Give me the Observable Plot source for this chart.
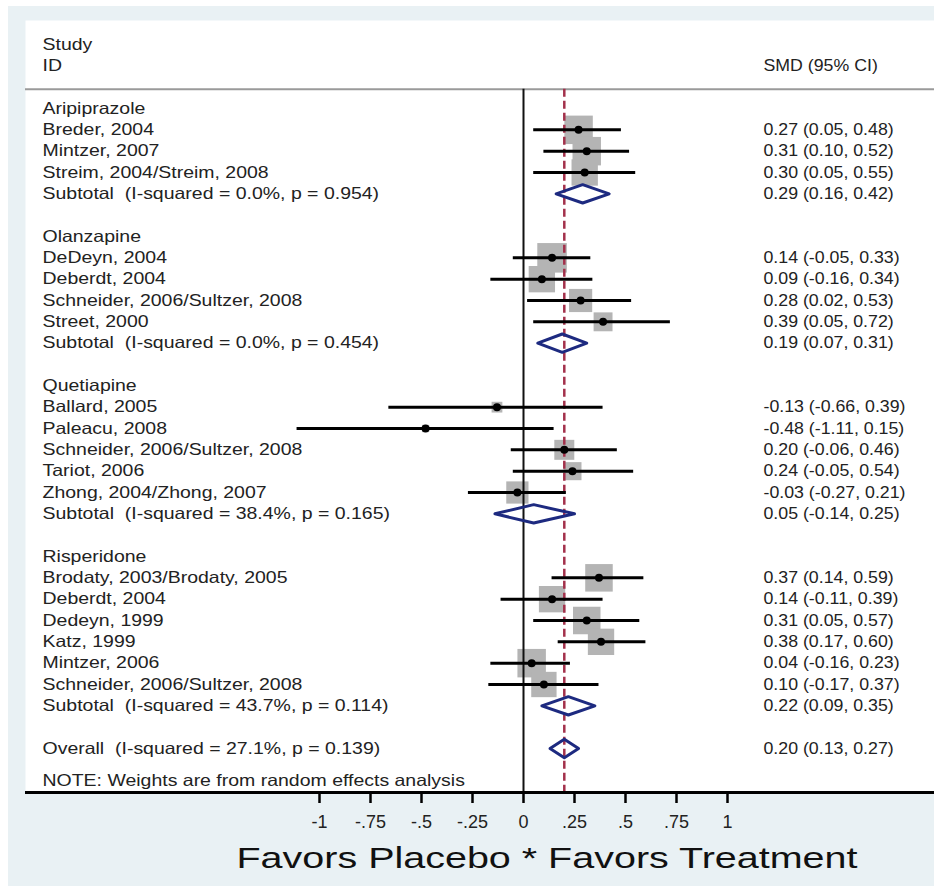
<!DOCTYPE html>
<html><head><meta charset="utf-8">
<script src="https://cdn.jsdelivr.net/npm/d3@7"></script>
<script src="https://cdn.jsdelivr.net/npm/@observablehq/plot@0.6"></script>
<style>
body{margin:0;background:#fff;}
#chart svg{display:block;}
</style></head><body><div id="chart"></div>
<script>
// ---- data ----
const drugs = ["Aripiprazole","Olanzapine","Quetiapine","Risperidone"];
const studyNames = ["Breder, 2004","Mintzer, 2007","Streim, 2004/Streim, 2008",
  "DeDeyn, 2004","Deberdt, 2004","Schneider, 2006/Sultzer, 2008","Street, 2000",
  "Ballard, 2005","Paleacu, 2008","Schneider, 2006/Sultzer, 2008","Tariot, 2006","Zhong, 2004/Zhong, 2007",
  "Brodaty, 2003/Brodaty, 2005","Deberdt, 2004","Dedeyn, 1999","Katz, 1999","Mintzer, 2006","Schneider, 2006/Sultzer, 2008"];
const studyDrug = [0,0,0,1,1,1,1,2,2,2,2,2,3,3,3,3,3,3];
const studySmd = [0.27,0.31,0.30,0.14,0.09,0.28,0.39,-0.13,-0.48,0.20,0.24,-0.03,0.37,0.14,0.31,0.38,0.04,0.10];
const studyLo  = [0.05,0.10,0.05,-0.05,-0.16,0.02,0.05,-0.66,-1.11,-0.06,-0.05,-0.27,0.14,-0.11,0.05,0.17,-0.16,-0.17];
const studyHi  = [0.48,0.52,0.55,0.33,0.34,0.53,0.72,0.39,0.15,0.46,0.54,0.21,0.59,0.39,0.57,0.60,0.23,0.37];
const studyWeight = [7.7,7.7,6.6,8.3,6.6,5.1,3.4,1.1,0.5,3.8,3.1,4.7,7.2,6.6,7.2,6.6,7.7,6.1];
const subtotalText = ["Subtotal  (I-squared = 0.0%, p = 0.954)","Subtotal  (I-squared = 0.0%, p = 0.454)",
  "Subtotal  (I-squared = 38.4%, p = 0.165)","Subtotal  (I-squared = 43.7%, p = 0.114)"];
const subSmd = [0.29,0.19,0.05,0.22];
const subLo  = [0.16,0.07,-0.14,0.09];
const subHi  = [0.42,0.31,0.25,0.35];
const overallText = "Overall  (I-squared = 27.1%, p = 0.139)";
const overallSmd = 0.20, overallLo = 0.13, overallHi = 0.27;
const headerLeft = ["Study","ID"];
const headerRight = "SMD (95% CI)";
const noteText = "NOTE: Weights are from random effects analysis";
const xTicks = [-1,-0.75,-0.5,-0.25,0,0.25,0.5,0.75,1];
const xTickLabels = ["-1","-.75","-.5","-.25","0",".25",".5",".75","1"];
const axisTitle = "Favors Placebo * Favors Treatment";

// ---- row layout ----
const fmt = v => v.toFixed(2);
const ciText = (s,l,h) => `${fmt(s)} (${fmt(l)}, ${fmt(h)})`;
const left = [], right = [], studies = [], pooled = [];
left.push({row:-3, text:headerLeft[0]}, {row:-2, text:headerLeft[1]});
right.push({row:-2, text:headerRight});
let row = 0;
drugs.forEach((d, di) => {
  left.push({row, text:d}); row++;
  studyNames.forEach((n, i) => {
    if (studyDrug[i] !== di) return;
    studies.push({row, smd:studySmd[i], lo:studyLo[i], hi:studyHi[i], w:studyWeight[i]});
    left.push({row, text:n});
    right.push({row, text:ciText(studySmd[i], studyLo[i], studyHi[i])});
    row++;
  });
  pooled.push({row, smd:subSmd[di], lo:subLo[di], hi:subHi[di]});
  left.push({row, text:subtotalText[di]});
  right.push({row, text:ciText(subSmd[di], subLo[di], subHi[di])});
  row += 2;
});
pooled.push({row, smd:overallSmd, lo:overallLo, hi:overallHi});
left.push({row, text:overallText});
right.push({row, text:ciText(overallSmd, overallLo, overallHi)});
const noteRow = row + 1.5;
left.push({row:noteRow, text:noteText});
const headerSepRow = -0.9, axisRow = 32.06;

const diamondPts = [];
pooled.forEach((p, k) => {
  const h = 0.43;
  diamondPts.push({k, x:p.lo, y:p.row}, {k, x:p.smd, y:p.row - h}, {k, x:p.hi, y:p.row}, {k, x:p.smd, y:p.row + h});
});

const font = "'Liberation Sans', Arial, Helvetica, sans-serif";
const ink = "#222";

const svg = Plot.plot({
  width: 934, height: 886,
  marginTop: 20, marginLeft: 25, marginRight: 0, marginBottom: 94,
  style: {background: "#e9f1f4", fontFamily: font, boxShadow: "inset 8px 6px 0 #fff", overflow: "visible"},
  x: {domain: [-1, 1], range: [319, 727], axis: null},
  y: {domain: [0, 30], range: [108, 748], axis: null},
  r: {type: "sqrt", domain: [0, 10], range: [0, 18.3]},
  marks: [
    Plot.frame({fill: "white", stroke: null}),
    Plot.ruleY([headerSepRow], {stroke: "#9a9a9a", strokeWidth: 2}),
    Plot.dot(studies, {x: "smd", y: "row", r: "w", symbol: "square", fill: "#b4b4b4", stroke: null}),
    Plot.ruleX([0], {y1: headerSepRow, y2: axisRow, stroke: "#111", strokeWidth: 2}),
    Plot.ruleX([overallSmd], {y1: headerSepRow, y2: axisRow, stroke: "#a3314b", strokeWidth: 2.5, strokeDasharray: "8,4"}),
    Plot.ruleY(studies, {y: "row", x1: "lo", x2: "hi", stroke: "#000", strokeWidth: 3}),
    Plot.dot(studies, {x: "smd", y: "row", r: 4, fill: "#000", stroke: null}),
    Plot.line(diamondPts, {x: "x", y: "y", z: "k", curve: "linear-closed", stroke: "#1d2a80", strokeWidth: 3, fill: "none"}),
    Plot.ruleY([axisRow], {stroke: "#000", strokeWidth: 3}),
    Plot.axisX(xTicks, {anchor: "bottom", tickSize: 11, tickPadding: 12, fontSize: 18, strokeWidth: 2.5,
      stroke: "#000", fill: ink, tickFormat: d => xTickLabels[xTicks.indexOf(d)], label: null}),
    Plot.text(left, {y: "row", text: "text", frameAnchor: "left", dx: 17, textAnchor: "start", fontSize: 16.5, fill: ink}),
    Plot.text(right, {y: "row", text: "text", frameAnchor: "right", dx: -171, textAnchor: "start", fontSize: 16.5, fill: ink}),
    Plot.text([axisTitle], {frameAnchor: "bottom-left", dx: 211, dy: 75, textAnchor: "start", fontSize: 30, fill: "#111"})
  ]
});
document.getElementById("chart").append(svg);

// horizontal glyph stretch to match the reference's wide lettering
const textGroups = svg.querySelectorAll('g[aria-label="text"]');
function stretch(g, f, target) {
  if (!g) return;
  g.querySelectorAll("text").forEach(t => {
    const L = t.getComputedTextLength();
    t.setAttribute("textLength", (target ?? L * f).toFixed(1));
    t.setAttribute("lengthAdjust", "spacingAndGlyphs");
  });
}
stretch(textGroups[0], 1.18);
stretch(textGroups[1], 1.075);
stretch(textGroups[2], 1, 621);
</script></body></html>
